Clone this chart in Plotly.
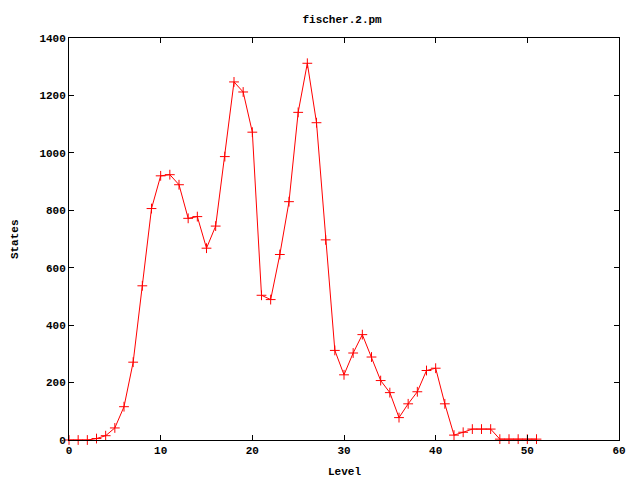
import plotly.graph_objects as go

levels = list(range(0, 52))
states = [0, 0, 0, 5, 15, 42, 116, 271, 537, 806, 920, 924, 889, 772, 778, 668,
          745, 987, 1247, 1212, 1072, 504, 489, 646, 830, 1141, 1312, 1105, 697, 312,
          227, 303, 367, 289, 207, 165, 78, 126, 168, 242, 250, 126, 17, 27, 38, 38,
          38, 3, 3, 3, 3, 3]

title_text = "fischer.2.pm"
x_label = "Level"
y_label = "States"
x_ticks = [0, 10, 20, 30, 40, 50, 60]
y_ticks = [0, 200, 400, 600, 800, 1000, 1200, 1400]

font = dict(family="Liberation Mono, DejaVu Sans Mono, monospace", size=11, color="black", weight="bold")

fig = go.Figure()
fig.add_trace(go.Scatter(
    x=levels, y=states, mode="lines+markers",
    line=dict(color="#ff0000", width=1),
    marker=dict(symbol="cross-thin", size=7, line=dict(color="#ff0000", width=1), color="#ff0000"),
    showlegend=False, cliponaxis=False,
))

axis_common = dict(
    showline=True, linecolor="black", linewidth=1, mirror="ticks",
    ticks="inside", ticklen=5, tickcolor="black", tickwidth=1,
    showgrid=False, zeroline=False, tickfont=font, automargin=False,
)

fig.update_layout(
    width=640, height=480,
    margin=dict(l=61, r=29, t=30, b=48),
    paper_bgcolor="white", plot_bgcolor="white",
    title=dict(text=title_text, x=0.522, xanchor="center", y=0.977, yanchor="middle", font=font),
    xaxis=dict(range=[0, 60], tickvals=x_ticks, ticktext=[str(v) for v in x_ticks], **axis_common),
    yaxis=dict(range=[0, 1400], tickvals=y_ticks, ticktext=[str(v) for v in y_ticks], **axis_common),
    annotations=[
        dict(text=x_label, xref="paper", yref="paper", x=0.5, y=-0.08,
             xanchor="center", yanchor="middle", showarrow=False, font=font),
        dict(text=y_label, xref="paper", yref="paper", x=-0.098, y=0.5, textangle=-90,
             xanchor="center", yanchor="middle", showarrow=False, font=font),
    ],
)

fig.write_html("out.html")
